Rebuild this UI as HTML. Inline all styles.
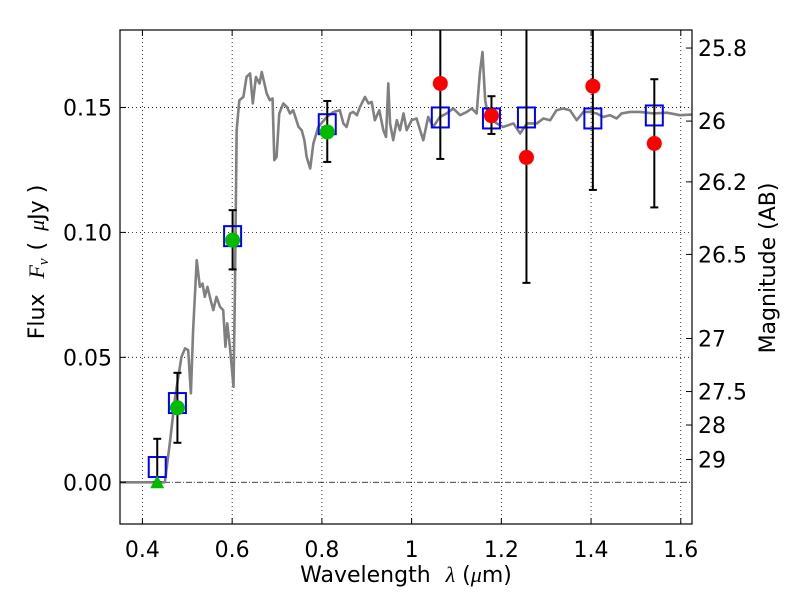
<!DOCTYPE html>
<html><head><meta charset="utf-8"><style>
body{margin:0;background:#fff;}
svg{display:block;font-family:"DejaVu Sans","Liberation Sans",sans-serif;}
</style></head><body>
<svg id="chart" width="800" height="600"></svg>
<script>
const specLam=[0.35,0.45,0.461,0.473,0.487,0.495,0.502,0.508,0.513,0.521,0.528,0.534,0.539,0.545,0.552,0.558,0.565,0.573,0.58,0.585,0.589,0.595,0.603,0.606,0.61,0.616,0.625,0.632,0.64,0.646,0.653,0.661,0.666,0.677,0.684,0.69,0.694,0.699,0.705,0.714,0.722,0.729,0.736,0.748,0.755,0.761,0.766,0.774,0.781,0.792,0.811,0.826,0.84,0.848,0.855,0.863,0.87,0.878,0.885,0.896,0.904,0.911,0.918,0.928,0.937,0.943,0.948,0.952,0.959,0.967,0.974,0.982,0.989,1.0,1.011,1.019,1.026,1.037,1.048,1.063,1.078,1.093,1.108,1.123,1.134,1.145,1.152,1.158,1.164,1.171,1.19,1.204,1.227,1.242,1.257,1.279,1.294,1.309,1.323,1.338,1.353,1.368,1.383,1.398,1.413,1.427,1.442,1.457,1.468,1.487,1.509,1.539,1.569,1.598,1.628];
const specFlux=[0,0,0.0156,0.0342,0.0502,0.0536,0.0529,0.0356,0.0609,0.0889,0.0782,0.0795,0.0742,0.0782,0.0729,0.0689,0.0742,0.0702,0.0689,0.0542,0.0636,0.0542,0.0382,0.0742,0.1409,0.1529,0.1542,0.1622,0.1636,0.1516,0.1622,0.1596,0.1642,0.1556,0.1529,0.1536,0.1289,0.1302,0.1476,0.1516,0.1502,0.1476,0.1489,0.1422,0.1409,0.1369,0.1302,0.1256,0.1356,0.1422,0.1462,0.1482,0.1489,0.1436,0.1422,0.1476,0.1482,0.1469,0.1502,0.1542,0.1516,0.1522,0.1449,0.1489,0.1409,0.1382,0.1596,0.1436,0.1369,0.1449,0.1409,0.1476,0.1409,0.1449,0.1456,0.1409,0.1369,0.1462,0.1422,0.1462,0.1476,0.1496,0.1469,0.1482,0.1496,0.1476,0.1636,0.1722,0.1529,0.1462,0.1436,0.1422,0.1436,0.1396,0.1436,0.1436,0.1456,0.1449,0.1489,0.1496,0.1489,0.1449,0.1482,0.1482,0.1476,0.1462,0.1469,0.1456,0.1476,0.1482,0.1482,0.1476,0.1479,0.1469,0.1472];
const modelLam=[0.433,0.478,0.601,0.812,1.064,1.178,1.256,1.404,1.541];
const modelFlux=[0.0061,0.0317,0.0985,0.1433,0.146,0.1456,0.146,0.1456,0.1468];
const greenLam=[0.478,0.601,0.812];
const greenFlux=[0.0298,0.0969,0.1402];
const greenLo=[0.0158,0.0852,0.1282];
const greenHi=[0.0438,0.1089,0.1526];
const triLam=[0.433];
const triFlux=[0];
const triLo=[0];
const triHi=[0.0174];
const redLam=[1.064,1.178,1.256,1.404,1.541];
const redFlux=[0.1596,0.1467,0.13,0.1585,0.1356];
const redLo=[0.1294,0.1394,0.0798,0.117,0.11];
const redHi=[0.19,0.1545,0.185,0.2,0.1613];
const xTicks=[0.4,0.6,0.8,1.0,1.2,1.4,1.6];
const xTickLabels=["0.4","0.6","0.8","1","1.2","1.4","1.6"];
const yTicks=[0,0.05,0.10,0.15];
const yTickLabels=["0.00","0.05","0.10","0.15"];
const magTicks=[25.8,26,26.2,26.5,27,27.5,28,29];
const magTickLabels=["25.8","26","26.2","26.5","27","27.5","28","29"];

const L=120,R=692,T=30,B=524;
const X0=0.35,X1=1.625,Y0=-0.0167,Y1=0.181;
const sx=v=>L+(v-X0)/(X1-X0)*(R-L);
const sy=v=>B-(v-Y0)/(Y1-Y0)*(B-T);
const NS="http://www.w3.org/2000/svg";
const svg=document.getElementById('chart');
function mk(tag,attrs,parent){const e=document.createElementNS(NS,tag);for(const k in attrs)e.setAttribute(k,attrs[k]);(parent||svg).appendChild(e);return e;}
const defs=mk('defs',{});
const cp=mk('clipPath',{id:'clip'},defs);mk('rect',{x:L,y:T,width:R-L,height:B-T},cp);
const plot=mk('g',{'clip-path':'url(#clip)'});


xTicks.forEach((t,i)=>{const g=mk('line',{x1:sx(t),x2:sx(t),y1:T,y2:B,stroke:'#000','stroke-width':0.8,'stroke-dasharray':'1,3'},plot);

});
yTicks.forEach(t=>{if(t===0)return;const g=mk('line',{x1:L,x2:R,y1:sy(t),y2:sy(t),stroke:'#000','stroke-width':0.8,'stroke-dasharray':'1,3'},plot);

});
const zl=mk('line',{x1:L,x2:R,y1:sy(0),y2:sy(0),stroke:'#000','stroke-width':0.8,'stroke-dasharray':'6,2,1,2'},plot);


const sp=mk('polyline',{points:specLam.map((l,i)=>sx(l)+','+sy(specFlux[i])).join(' '),fill:'none',stroke:'#808080','stroke-width':2.6,'stroke-linejoin':'round'},plot);


function errbar(l,lo,hi,name){const g=mk('g',{},plot);


const x=sx(l);mk('line',{x1:x,x2:x,y1:sy(lo),y2:sy(hi),stroke:'#000','stroke-width':2},g);
mk('line',{x1:x-4,x2:x+4,y1:sy(lo),y2:sy(lo),stroke:'#000','stroke-width':2},g);
mk('line',{x1:x-4,x2:x+4,y1:sy(hi),y2:sy(hi),stroke:'#000','stroke-width':2},g);}
modelLam.forEach((l,i)=>{const r=mk('rect',{x:sx(l)-8.5,y:sy(modelFlux[i])-10,width:17,height:20,fill:'none',stroke:'#0000ff','stroke-width':2},plot);

});
triLam.forEach((l,i)=>{errbar(l,triLo[i],triHi[i],'upper-limit-error-bar');const x=sx(l),y=sy(triFlux[i]);
const p=mk('polygon',{points:`${x-7},${y+6} ${x+7},${y+6} ${x},${y-7}`,fill:'#00bb00'},plot);

});
greenLam.forEach((l,i)=>{errbar(l,greenLo[i],greenHi[i],'optical-error-bar');const c=mk('circle',{cx:sx(l),cy:sy(greenFlux[i]),r:7.5,fill:'#00bb00'},plot);

});
redLam.forEach((l,i)=>{errbar(l,redLo[i],redHi[i],'nir-error-bar');const c=mk('circle',{cx:sx(l),cy:sy(redFlux[i]),r:7.5,fill:'#ff0000'},plot);

});
const fr=mk('rect',{x:L,y:T,width:R-L,height:B-T,fill:'none',stroke:'#000','stroke-width':1.2});


xTicks.forEach((t,i)=>{mk('line',{x1:sx(t),x2:sx(t),y1:B,y2:B-6,stroke:'#000'});mk('line',{x1:sx(t),x2:sx(t),y1:T,y2:T+6,stroke:'#000'});
const tx=mk('text',{x:sx(t),y:B+33,'text-anchor':'middle','font-size':22});tx.textContent=xTickLabels[i];

});
yTicks.forEach((t,i)=>{mk('line',{x1:L,x2:L+6,y1:sy(t),y2:sy(t),stroke:'#000'});
const tx=mk('text',{x:L-8,y:sy(t)+8,'text-anchor':'end','font-size':22});tx.textContent=yTickLabels[i];

});
magTicks.forEach((m,i)=>{const f=Math.pow(10,(23.9-m)/2.5);const y=sy(f);mk('line',{x1:R,x2:R-6,y1:y,y2:y,stroke:'#000'});
const tx=mk('text',{x:R+6,y:y+8,'text-anchor':'start','font-size':22});tx.textContent=magTickLabels[i];

});
const xl=mk('text',{x:406,y:582,'text-anchor':'middle','font-size':22});xl.innerHTML='Wavelength <tspan font-family="Liberation Serif" font-style="italic" dx="8">λ</tspan> (<tspan font-family="Liberation Serif" font-style="italic">μ</tspan>m)';


const yl=mk('text',{x:0,y:0,'text-anchor':'middle','font-size':22,transform:'translate(44,262) rotate(-90)'});yl.innerHTML='Flux <tspan font-family="Liberation Serif" font-style="italic" dx="8">F</tspan><tspan font-family="Liberation Serif" font-style="italic" font-size="15" dy="4">ν</tspan><tspan dy="-4" dx="8">( </tspan><tspan font-family="Liberation Serif" font-style="italic" dx="4">μ</tspan>Jy )';


const rl=mk('text',{x:0,y:0,'text-anchor':'middle','font-size':22,transform:'translate(775,268) rotate(-90)'});rl.textContent='Magnitude (AB)';


</script>
</body></html>
